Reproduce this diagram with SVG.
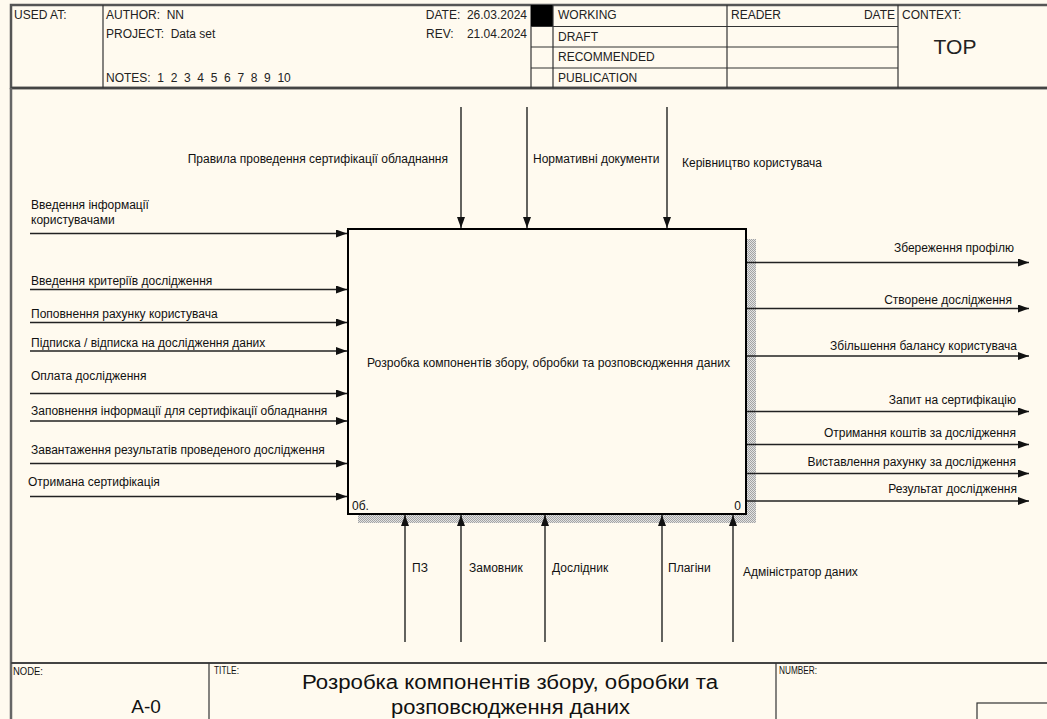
<svg xmlns="http://www.w3.org/2000/svg" width="1047" height="719" viewBox="0 0 1047 719">
<style>
  .t { font-family: "Liberation Sans", Arial, sans-serif; font-size: 12px; fill: #111; }
  .h { font-family: "Liberation Sans", Arial, sans-serif; font-size: 12px; fill: #222; white-space: pre; }
  .r { text-anchor: end; }
  .grid { stroke: #333; stroke-width: 1.2; fill: none; }
  .frame { stroke: #555; stroke-width: 2.5; fill: none; }
  .arrow { stroke: #222; stroke-width: 1.4; fill: none; marker-end: url(#ah); }
  .cond { font-family: "Liberation Sans", Arial, sans-serif; fill: #111; }
</style>
<defs>
  <marker id="ah" markerUnits="userSpaceOnUse" markerWidth="12" markerHeight="9" refX="11" refY="4" orient="auto">
    <path d="M0,0 L11,4 L0,8 z" fill="#111"/>
  </marker>
  <pattern id="hatch" width="2" height="2" patternUnits="userSpaceOnUse">
    <rect width="2" height="2" fill="#e2e2e2"/>
    <rect width="1" height="1" fill="#a4a4a4"/>
    <rect x="1" y="1" width="1" height="1" fill="#a4a4a4"/>
  </pattern>
</defs>
<rect width="1047" height="719" fill="#FFFAEF"/>

<g id="header">
  <rect x="11" y="5" width="1040" height="83" class="frame"/>
  <line x1="11" y1="88" x2="1047" y2="88" stroke="#444" stroke-width="2.5"/>
  <line x1="103" y1="5" x2="103" y2="88" class="grid"/>
  <line x1="531" y1="5" x2="531" y2="88" class="grid"/>
  <rect x="531" y="5" width="22" height="21" fill="#000"/>
  <line x1="553" y1="5" x2="553" y2="88" class="grid"/>
  <line x1="727" y1="5" x2="727" y2="88" class="grid"/>
  <line x1="898" y1="5" x2="898" y2="88" class="grid"/>
  <line x1="531" y1="26.5" x2="898" y2="26.5" class="grid"/>
  <line x1="531" y1="47" x2="898" y2="47" class="grid"/>
  <line x1="531" y1="68" x2="898" y2="68" class="grid"/>
  <text x="14" y="19" class="h">USED AT:</text>
  <text x="106" y="19" class="h">AUTHOR:  NN</text>
  <text x="106" y="38" class="h">PROJECT:  Data set</text>
  <text x="106" y="82" class="h">NOTES:  1  2  3  4  5  6  7  8  9  10</text>
  <text x="527" y="19" class="h r">DATE:  26.03.2024</text>
  <text x="527" y="38" class="h r">REV:    21.04.2024</text>
  <text x="558" y="19" class="h">WORKING</text>
  <text x="558" y="41" class="h">DRAFT</text>
  <text x="558" y="61" class="h">RECOMMENDED</text>
  <text x="558" y="82" class="h">PUBLICATION</text>
  <text x="731" y="19" class="h">READER</text>
  <text x="895" y="19" class="h r">DATE</text>
  <text x="902" y="19" class="h">CONTEXT:</text>
  <text x="955" y="54" class="h" style="font-size:21px" text-anchor="middle">TOP</text>
</g>

<g id="frame-sides">
  <line x1="11" y1="88" x2="11" y2="719" stroke="#666" stroke-width="2.5"/>
</g>

<g id="box">
  <rect x="358" y="239" width="398" height="284" fill="url(#hatch)"/>
  <rect x="348" y="229" width="398" height="285" fill="#FFFAEF" stroke="#000" stroke-width="2"/>
  <text x="367" y="367" class="t" textLength="363" lengthAdjust="spacingAndGlyphs">Розробка компонентів збору, обробки та розповсюдження даних</text>
  <text x="352" y="510" class="t">0б.</text>
  <text x="741" y="510" class="t r">0</text>
</g>

<g id="connectors">
  <line x1="461" y1="107" x2="461" y2="228" class="arrow"/>
  <line x1="527" y1="107" x2="527" y2="228" class="arrow"/>
  <line x1="667" y1="107" x2="667" y2="228" class="arrow"/>
  <line x1="30" y1="233.5" x2="347" y2="233.5" class="arrow"/>
  <line x1="30" y1="289.5" x2="347" y2="289.5" class="arrow"/>
  <line x1="30" y1="322.5" x2="347" y2="322.5" class="arrow"/>
  <line x1="30" y1="351" x2="347" y2="351" class="arrow"/>
  <line x1="30" y1="393.5" x2="347" y2="393.5" class="arrow"/>
  <line x1="30" y1="421" x2="347" y2="421" class="arrow"/>
  <line x1="30" y1="463.5" x2="347" y2="463.5" class="arrow"/>
  <line x1="30" y1="496.5" x2="347" y2="496.5" class="arrow"/>
  <line x1="747" y1="262.5" x2="1029" y2="262.5" class="arrow"/>
  <line x1="747" y1="308.5" x2="1029" y2="308.5" class="arrow"/>
  <line x1="747" y1="356" x2="1029" y2="356" class="arrow"/>
  <line x1="747" y1="411.5" x2="1029" y2="411.5" class="arrow"/>
  <line x1="747" y1="444.5" x2="1029" y2="444.5" class="arrow"/>
  <line x1="747" y1="473.5" x2="1029" y2="473.5" class="arrow"/>
  <line x1="747" y1="501" x2="1029" y2="501" class="arrow"/>
  <line x1="405" y1="642" x2="405" y2="515" class="arrow"/>
  <line x1="461" y1="642" x2="461" y2="515" class="arrow"/>
  <line x1="545" y1="642" x2="545" y2="515" class="arrow"/>
  <line x1="662" y1="642" x2="662" y2="515" class="arrow"/>
  <line x1="733" y1="642" x2="733" y2="515" class="arrow"/>
</g>

<g id="labels">
  <text x="448" y="163" class="t r">Правила проведення сертифікації обладнання</text>
  <text x="533" y="163" class="t">Нормативні документи</text>
  <text x="682" y="167" class="t">Керівництво користувача</text>

  <text x="31" y="209" class="t">Введення інформації</text>
  <text x="31" y="224" class="t">користувачами</text>
  <text x="31" y="285" class="t">Введення критеріїв дослідження</text>
  <text x="31" y="318" class="t">Поповнення рахунку користувача</text>
  <text x="31" y="347" class="t">Підписка / відписка на дослідження даних</text>
  <text x="31" y="380" class="t">Оплата дослідження</text>
  <text x="31" y="415" class="t">Заповнення інформації для сертифікації обладнання</text>
  <text x="31" y="454" class="t">Завантаження результатів проведеного дослідження</text>
  <text x="28" y="486" class="t">Отримана сертифікація</text>

  <text x="1014" y="252" class="t r">Збереження профілю</text>
  <text x="1012" y="304" class="t r">Створене дослідження</text>
  <text x="1017" y="350" class="t r">Збільшення балансу користувача</text>
  <text x="1016" y="404" class="t r">Запит на сертифікацію</text>
  <text x="1016" y="437" class="t r">Отримання коштів за дослідження</text>
  <text x="1016" y="466" class="t r">Виставлення рахунку за дослідження</text>
  <text x="1017" y="493" class="t r">Результат дослідження</text>

  <text x="412" y="572" class="t">ПЗ</text>
  <text x="469" y="572" class="t">Замовник</text>
  <text x="552" y="572" class="t">Дослідник</text>
  <text x="668" y="572" class="t">Плагіни</text>
  <text x="743" y="576" class="t">Адміністратор даних</text>
</g>

<g id="footer">
  <line x1="11" y1="663" x2="1047" y2="663" stroke="#444" stroke-width="2"/>
  <line x1="209" y1="663" x2="209" y2="719" class="grid"/>
  <line x1="776" y1="663" x2="776" y2="719" class="grid"/>
  <rect x="977" y="703" width="80" height="20" class="grid"/>
  <text x="13" y="675" class="cond" style="font-size:11px" textLength="30" lengthAdjust="spacingAndGlyphs">NODE:</text>
  <text x="146" y="713" class="cond" style="font-size:19px" text-anchor="middle">A-0</text>
  <text x="214" y="674" class="cond" style="font-size:11px" textLength="25" lengthAdjust="spacingAndGlyphs">TITLE:</text>
  <text x="302" y="689" class="cond" style="font-size:20px" textLength="416" lengthAdjust="spacingAndGlyphs">Розробка компонентів збору, обробки та</text>
  <text x="391" y="714" class="cond" style="font-size:20px" textLength="239" lengthAdjust="spacingAndGlyphs">розповсюдження даних</text>
  <text x="779" y="674" class="cond" style="font-size:11px" textLength="38" lengthAdjust="spacingAndGlyphs">NUMBER:</text>
</g>
</svg>
